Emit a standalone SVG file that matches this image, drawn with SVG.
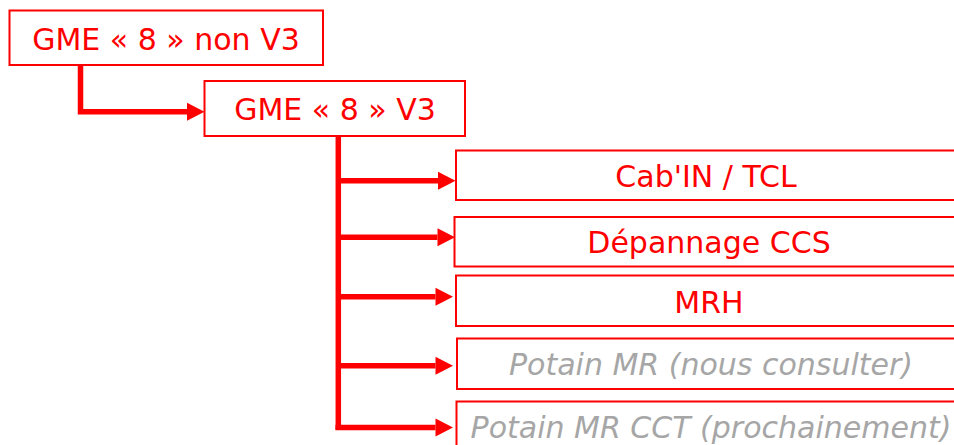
<svg xmlns="http://www.w3.org/2000/svg" width="954" height="445" viewBox="0 0 954 445">
  <defs>
    <style>
      .box { fill: #FFFFFF; stroke: #FF0000; stroke-width: 2; }
      .t { font-family: "DejaVu Sans", Verdana, sans-serif; font-size: 30px; text-anchor: middle; fill: #FF0000; }
      .g { fill: #A6A6A6; font-style: italic; }
      .conn { fill: none; stroke: #FF0000; stroke-width: 5.5; stroke-linejoin: miter; }
    </style>
    <marker id="arr" markerUnits="userSpaceOnUse" markerWidth="18" markerHeight="19" refX="0" refY="9" orient="auto" overflow="visible">
      <path d="M0,0 L17.5,9 L0,18 z" fill="#FF0000"/>
    </marker>
  </defs>
  <rect width="954" height="445" fill="#FFFFFF"/>

  <g id="connectors">
    <path class="conn" d="M80.5,65 V111.7 H187" marker-end="url(#arr)"/>
    <path class="conn" d="M338.3,136 V430"/>
    <path class="conn" d="M338.3,180.7 H438" marker-end="url(#arr)"/>
    <path class="conn" d="M338.3,237.3 H437.5" marker-end="url(#arr)"/>
    <path class="conn" d="M338.3,296.7 H435.5" marker-end="url(#arr)"/>
    <path class="conn" d="M338.3,365.7 H435.5" marker-end="url(#arr)"/>
    <path class="conn" d="M335.5,427.5 H435.5" marker-end="url(#arr)"/>
  </g>

  <g id="gme8nonv3">
    <rect class="box" x="9.5" y="10.5" width="313.5" height="54.5"/>
    <text class="t" x="166" y="50">GME « 8 » non V3</text>
  </g>
  <g id="gme8v3">
    <rect class="box" x="204.5" y="81" width="260.5" height="55"/>
    <text class="t" x="335" y="120">GME « 8 » V3</text>
  </g>
  <g id="cabin">
    <rect class="box" x="456" y="150.5" width="502" height="49.5"/>
    <text class="t" x="706" y="186.7">Cab'IN / TCL</text>
  </g>
  <g id="depannage">
    <rect class="box" x="454.5" y="217" width="503.5" height="49.5"/>
    <text class="t" x="709" y="253">Dépannage CCS</text>
  </g>
  <g id="mrh">
    <rect class="box" x="456" y="275.5" width="502" height="50.5"/>
    <text class="t" x="709" y="312.7">MRH</text>
  </g>
  <g id="potainmr">
    <rect class="box" x="457" y="338.5" width="501" height="50.5"/>
    <text class="t g" x="711" y="375">Potain MR (nous consulter)</text>
  </g>
  <g id="potainmrcct">
    <rect class="box" x="456.5" y="401.5" width="501.5" height="51"/>
    <text class="t g" x="711" y="438">Potain MR CCT (prochainement)</text>
  </g>
</svg>
